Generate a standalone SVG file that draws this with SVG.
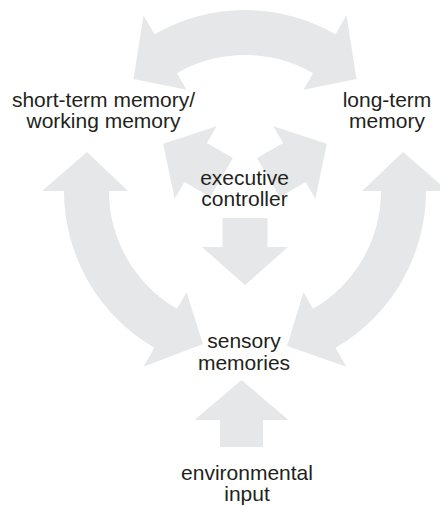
<svg xmlns="http://www.w3.org/2000/svg" width="440" height="506" viewBox="0 0 440 506">
<style>
.ar{fill:#e6e7e8;stroke:none}
.t{font-family:"Liberation Sans",Arial,Helvetica,sans-serif;font-size:21px;fill:#231f20;text-anchor:middle}
</style>
<rect width="440" height="506" fill="#ffffff"/>
<g id="connectors">
<path id="arc-top" class="ar" d="M143.5,15.2 L154.5,34.25 A181,181 0 0 1 335.5,34.25 L346.5,15.2 L356.5,79 L303.5,89.7 L313,73.2 A136,136 0 0 0 177,73.2 L186.5,89.7 L133.5,79 Z"/>
<path id="arc-left" class="ar" d="M128,191 L109,191 A136,136 0 0 0 177,308.8 L186.5,292.3 L203,344 L143.5,366.8 L154.5,347.75 A181,181 0 0 1 64,191 L42,191 L87,152 Z"/>
<path id="arc-right" class="ar" d="M362,191 L381,191 A136,136 0 0 1 313,308.8 L303.5,292.3 L287,346 L346.5,366.8 L335.5,347.75 A181,181 0 0 0 426,191 L448,191 L403,152 Z"/>
<polygon id="exec-to-stm" class="ar" points="232.87,158.01 206.89,143.01 216.64,126.13 163.16,143.75 174.64,198.87 184.39,181.99 210.37,196.99"/>
<polygon id="exec-to-ltm" class="ar" points="257.13,158.01 283.11,143.01 273.36,126.13 326.84,143.75 315.36,198.87 305.61,181.99 279.63,196.99"/>
<polygon id="exec-to-sensory" class="ar" points="222.5,218 267.5,218 267.5,247 288,247 245,285 202,247 222.5,247"/>
<polygon id="input-to-sensory" class="ar" points="220,447 263,447 263,420 288.5,420 241.5,380 194.5,420 220,420"/>
</g>
<g id="stm">
<text class="t" x="103.5" y="107">short-term memory/</text>
<text class="t" x="103.5" y="128">working memory</text>
</g>
<g id="ltm">
<text class="t" x="387" y="107">long-term</text>
<text class="t" x="387" y="128">memory</text>
</g>
<g id="executive">
<text class="t" x="244.5" y="185">executive</text>
<text class="t" x="244.5" y="206">controller</text>
</g>
<g id="sensory">
<text class="t" x="244" y="348">sensory</text>
<text class="t" x="244" y="370">memories</text>
</g>
<g id="input">
<text class="t" x="247" y="480">environmental</text>
<text class="t" x="247" y="501">input</text>
</g>
</svg>
